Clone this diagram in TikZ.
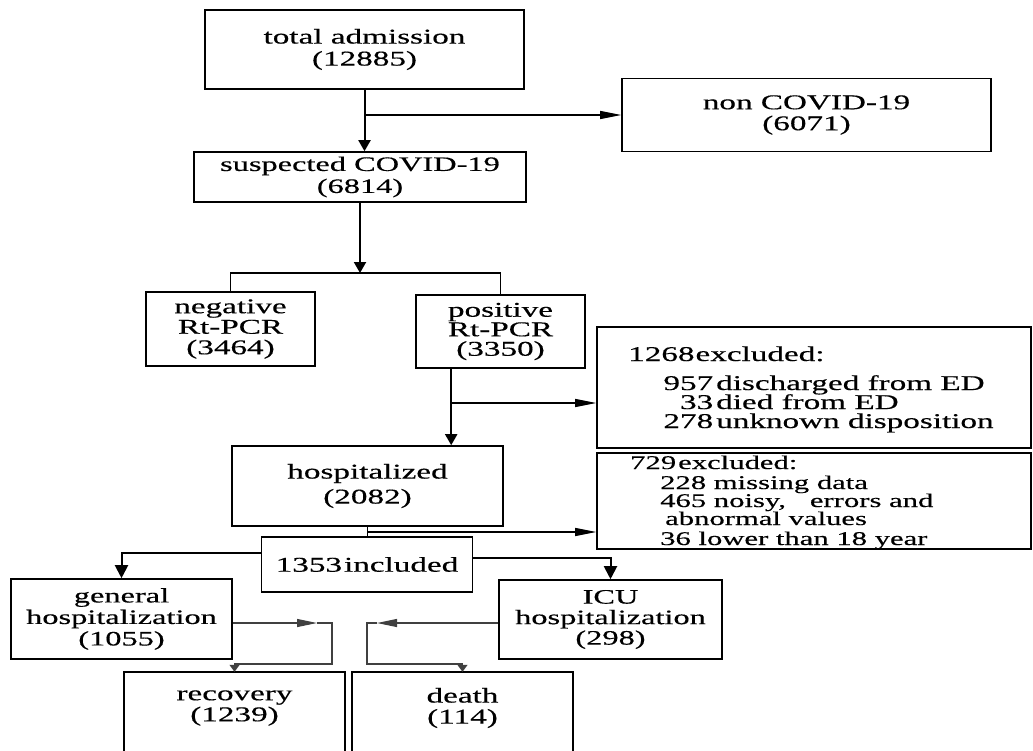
\documentclass[tikz,border=0pt]{standalone}
\usepackage{fontspec}
\setmainfont{Liberation Serif}[FakeStretch=1.58,FakeBold=0.4]
\usetikzlibrary{arrows.meta,calc}
\newcommand\myfs[2]{\fontsize{#1}{#2}\selectfont}
\begin{document}
\begin{tikzpicture}[x=1pt,y=-1pt,
  box/.style={draw=black, line width=1.6pt, align=center, inner sep=0pt, font={\myfs{21}{21}}},
  openbox/.style={align=center, inner sep=0pt, font={\myfs{21}{21}}},
  boxline/.style={draw=black, line width=1.6pt},
  txt/.style={anchor=base west, inner sep=0pt},
  mainarr/.style={line width=2pt, -{Triangle[length=11pt,width=12pt]}},
  medarr/.style={line width=2pt, -{Triangle[length=13pt,width=13pt]}},
  thinarr/.style={line width=1.2pt, -{Triangle[length=21pt,width=8pt]}},
  bline/.style={line width=1.3pt},
  grayarr/.style={line width=1.1pt, draw=black!75, -{Triangle[length=20pt,width=8pt]}},
  grayline/.style={line width=1.1pt, draw=black!75, -{Triangle[length=7pt,width=10pt]}}
]
\fill[white] (0,0) rectangle (1033,750);
\useasboundingbox (0,0) rectangle (1033,750);

% main boxes
\node[box, minimum width=319pt, minimum height=79pt, font={\myfs{21}{22}}] (total) at (364.5,49.5) {total admission\\(12885)};
\node[box, minimum width=369pt, minimum height=73pt] (non) at (806.5,115) {non COVID-19\\(6071)};
\node[box, minimum width=332pt, minimum height=50pt, font={\myfs{20.5}{22}}] (susp) at (360,177) {suspected COVID-19\\(6814)};
\node[box, minimum width=169pt, minimum height=74pt, font={\myfs{21}{20.5}}] (neg) at (230.5,329) {negative\\Rt-PCR\\(3464)};
\node[box, minimum width=169pt, minimum height=73pt, font={\myfs{21}{19.5}}] (pos) at (500.5,331.5) {positive\\Rt-PCR\\(3350)};
\node[box, minimum width=271pt, minimum height=80pt, font={\myfs{21}{25}}] (hosp) at (367.5,486) {hospitalized\\(2082)};
\node[box, minimum width=211pt, minimum height=55pt] (incl) at (367,564.5) {1353\hspace{2pt}included};
\node[box, minimum width=221pt, minimum height=80pt, font={\myfs{20.5}{21.5}}] (gen) at (121.5,619) {general\\hospitalization\\(1055)};
\node[box, minimum width=223pt, minimum height=79pt, font={\myfs{20.5}{20.5}}] (icu) at (610.5,619.5) {ICU\\hospitalization\\(298)};

% bottom boxes, open at the bottom edge
\node[openbox, minimum width=221pt, minimum height=72pt] (rec) at (234.5,708) {recovery\\(1239)};
\node[openbox, minimum width=221pt, minimum height=72pt] (death) at (462.5,708) {death\\(114)};
\draw[boxline] ([yshift=-100pt]rec.north west) -- (rec.north west) -- (rec.north east) -- ([yshift=-100pt]rec.north east);
\draw[boxline] ([yshift=-100pt]death.north west) -- (death.north west) -- (death.north east) -- ([yshift=-100pt]death.north east);

% exclusion boxes
\node[box, minimum width=434pt, minimum height=121pt] (excl1) at (814,387.5) {};
\node[box, minimum width=434pt, minimum height=96pt] (excl2) at (814,501) {};

\node[txt, font={\myfs{21}{21}}] (e1h) at (628,361) {1268\hspace{1pt}excluded:};
\node[txt, font={\myfs{21}{21}}] (e1a) at (662,390) {\makebox[51pt][r]{957}\hspace{3pt}discharged from ED};
\node[txt, font={\myfs{21}{21}}] (e1b) at (662,409) {\makebox[51pt][r]{33}\hspace{3pt}died from ED};
\node[txt, font={\myfs{21}{21}}] (e1c) at (662,428) {\makebox[51pt][r]{278}\hspace{3pt}unknown disposition};

\node[txt, font={\myfs{19.4}{19}}] (e2h) at (630,469) {729\hspace{2pt}excluded:};
\node[txt, font={\myfs{19.4}{19}}] (e2a) at (660,489) {228 missing data};
\node[txt, font={\myfs{19.4}{19}}] (e2b) at (660,507) {465 noisy,\hspace{24pt}errors and};
\node[txt, font={\myfs{19.4}{19}}] (e2c) at (665,525) {abnormal values};
\node[txt, font={\myfs{19.4}{19}}] (e2d) at (660,545) {36 lower than 18 year};

% connectors
\draw[mainarr] (total.south) -- (total.south |- susp.north);
\draw[thinarr] (total.south |- non.west) -- (non.west);

\coordinate (br) at (360,273);
\draw[bline] (neg.north) |- (br) -| (pos.north);
\draw[mainarr] (susp.south) -- (br);

\coordinate (pv) at ($(pos.south west)+(36,0)$);
\draw[mainarr] (pv) -- (pv |- hosp.north);
\coordinate (pb) at (452,403);
\draw[thinarr] (pb) -- (pb -| excl1.west);

\draw[bline] (hosp.south) -- (hosp.south |- incl.north);
\coordinate (hb) at (367,532);
\draw[thinarr] (hb) -- (hb -| excl2.west);

\draw[medarr] ([yshift=11.5pt]incl.west) -| (gen.north);
\draw[medarr] ([yshift=6.5pt]incl.east) -| (icu.north);

\coordinate (gtip) at (317,623);
\coordinate (ml) at (332,623);
\coordinate (itip) at (377,623);
\coordinate (mr) at (367,623);
\draw[grayarr] (gen.east |- gtip) -- (gtip);
\draw[grayarr] (icu.west |- itip) -- (itip);
\draw[grayline] (gtip) -- (ml) -- ++(0,41) -| (rec.north);
\draw[grayline] (itip) -- (mr) -- ++(0,41) -| (death.north);
\end{tikzpicture}
\end{document}
